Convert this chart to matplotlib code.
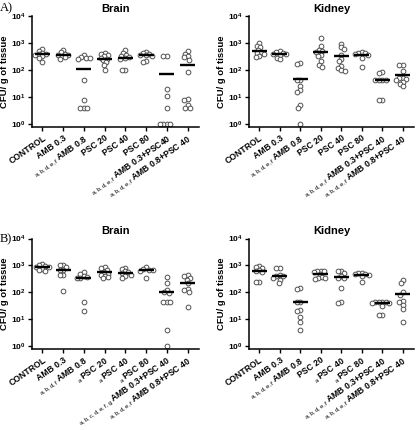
import numpy as np
import matplotlib
matplotlib.use("Agg")
import matplotlib.pyplot as plt

plt.rcParams["font.family"] = ["Liberation Sans", "DejaVu Sans"]
plt.rcParams["mathtext.fontset"] = "custom"
plt.rcParams["mathtext.rm"] = "Liberation Sans"
plt.rcParams["mathtext.bf"] = "Liberation Sans:bold"

# group names (tick labels) and significance prefixes
groups_a_brain = ["CONTROL", "AMB 0.3", "AMB 0.8", "PSC 20", "PSC 40", "PSC 80",
                  "AMB 0.3+PSC40", "AMB 0.8+PSC 40"]
groups_other = ["CONTROL", "AMB 0.3", "AMB 0.8", "PSC 20", "PSC 40", "PSC 80",
                "AMB 0.3+PSC 40", "AMB 0.8+PSC 40"]

prefix_a_brain = ["", "", "a,b,d,e,f", "", "", "", "a,b,d,e,f", "a,b,d,e,f"]
prefix_a_kidney = ["", "", "a,b,d,e,f", "", "", "", "a,b,d,e,f", "a,b,d,e,f"]
prefix_b_brain = ["", "", "a,b,d,f", "a", "a", "a", "a,b,c,d,e,f,g", "a,b,d,e,f"]
prefix_b_kidney = ["", "", "a,b,d,e,f", "", "a", "a", "a,b,d,e,f", "a,b,d,e,f"]

# CFU / g of tissue
a_brain = [
    [600, 520, 430, 400, 380, 350, 320, 280, 200],
    [570, 450, 400, 370, 350, 330, 300, 260],
    [350, 300, 280, 280, 260, 42, 8, 4, 4, 4],
    [430, 400, 360, 320, 280, 260, 230, 195, 160, 100],
    [540, 430, 360, 330, 310, 270, 250, 100, 100],
    [470, 430, 400, 370, 350, 320, 215, 195],
    [330, 320, 20, 11, 4, 1, 1, 1, 1],
    [500, 400, 320, 300, 245, 87, 8.5, 8, 5, 4, 4],
]
a_brain_mean = [380, 370, 115, 250, 280, 360, 70, 150]

a_kidney = [
    [1000, 800, 700, 550, 450, 420, 400, 330, 300],
    [490, 450, 420, 400, 390, 350, 290, 260],
    [190, 165, 45, 42, 26, 18, 16, 5, 4, 1],
    [1500, 750, 570, 490, 480, 370, 320, 210, 160, 130],
    [920, 690, 600, 370, 260, 210, 140, 118, 98, 90],
    [460, 440, 420, 390, 350, 280, 135],
    [85, 80, 45, 44, 43, 42, 8, 8],
    [160, 150, 90, 52, 50, 48, 45, 38, 31, 25],
]
a_kidney_mean = [500, 380, 48, 460, 330, 350, 44, 65]

b_brain = [
    [1150, 1000, 950, 900, 850, 750, 660, 600],
    [1050, 1000, 850, 690, 660, 430, 430, 110],
    [550, 480, 400, 360, 350, 340, 45, 21],
    [850, 780, 660, 560, 500, 450, 420, 360, 330],
    [800, 740, 600, 560, 520, 460, 400, 350],
    [850, 750, 700, 690, 640, 330],
    [360, 225, 120, 100, 95, 45, 45, 43, 4, 1],
    [450, 420, 350, 300, 225, 130, 120, 100, 29],
]
b_brain_mean = [870, 680, 350, 570, 520, 690, 100, 230]

b_kidney = [
    [920, 850, 780, 660, 600, 550, 250, 245],
    [820, 800, 460, 420, 400, 350, 300, 225],
    [150, 130, 46, 44, 22, 20, 12, 8, 4],
    [640, 620, 600, 550, 480, 370, 340, 330, 320],
    [640, 600, 520, 400, 350, 330, 150, 45, 40],
    [540, 520, 500, 480, 460, 400, 245],
    [46, 45, 44, 43, 42, 40, 32, 15, 15],
    [280, 215, 100, 82, 48, 45, 33, 24, 8],
]
b_kidney_mean = [640, 420, 45, 480, 360, 430, 39, 85]

W, H = 416, 430
CAT_PX = 20.8   # pixels between groups
DEC_PX = 27.0   # pixels per decade
SEP = 3.4       # min distance between circle centres (pixels), circles may overlap a bit


def swarm(vals):
    # simple beeswarm so circles do not sit on top of each other
    ys = np.log10(vals) * DEC_PX
    cands = sorted(np.arange(-20, 20.01, 0.5), key=abs)
    placed = []
    offs = np.zeros(len(ys))
    for i in np.argsort(-ys):
        for c in cands:
            if all((c - px) ** 2 + (ys[i] - py) ** 2 >= SEP ** 2 for px, py in placed):
                break
        placed.append((c, ys[i]))
        offs[i] = c
    return offs / CAT_PX


def panel(rect_px, data, means, names, prefixes, title):
    x0, y0, x1, y1 = rect_px
    ax = fig.add_axes([x0 / W, 1 - y1 / H, (x1 - x0) / W, (y1 - y0) / H])
    for i, vals in enumerate(data):
        xs = i + swarm(vals)
        ax.plot(xs, vals, "o", ms=3.4, mfc="white", mec="#505050", mew=0.7,
                clip_on=False, zorder=2)
        ax.hlines(means[i], i - 0.36, i + 0.36, color="black", lw=1.7, zorder=3)
    ax.set_yscale("log")
    ax.set_ylim(10 ** -0.11, 1e4)
    ax.set_xlim(-0.5, 7.55)
    ax.set_yticks([1, 10, 100, 1000, 10000])
    ax.set_yticklabels([r"$\mathbf{10^{%d}}$" % k for k in range(5)])
    ax.minorticks_off()
    ax.set_xticks(range(len(names)))
    labels = []
    for p, n in zip(prefixes, names):
        if p:
            labels.append(r"$_{\mathrm{%s}}\,$%s" % (p, n))
        else:
            labels.append(n)
    ax.set_xticklabels(labels, rotation=35, ha="right", rotation_mode="anchor",
                       fontsize=6.2, fontweight="bold")
    ax.tick_params(axis="y", labelsize=6, length=3, width=1, pad=1.5)
    ax.tick_params(axis="x", length=3, width=1, pad=1.5)
    for s in ["top", "right"]:
        ax.spines[s].set_visible(False)
    for s in ["left", "bottom"]:
        ax.spines[s].set_linewidth(1.1)
    ax.set_ylabel("CFU/ g of tissue", fontsize=6.8, fontweight="bold")
    ax.yaxis.label.set_va("center")
    ax.yaxis.set_label_coords(-27 / (x1 - x0), 0.5)
    ax.set_title(title, fontsize=8, fontweight="bold", pad=3)
    return ax


fig = plt.figure(figsize=(W / 100, H / 100), dpi=100)

panel((32, 16, 199, 127.3), a_brain, a_brain_mean, groups_a_brain, prefix_a_brain, "Brain")
panel((249, 16, 414, 127.3), a_kidney, a_kidney_mean, groups_other, prefix_a_kidney, "Kidney")
panel((32, 238.5, 199, 349.3), b_brain, b_brain_mean, groups_other, prefix_b_brain, "Brain")
panel((249, 238.5, 414, 349.3), b_kidney, b_kidney_mean, groups_other, prefix_b_kidney, "Kidney")

fig.text(0.0, 1 - 8 / H, "A)", family="Liberation Serif", fontsize=9, va="center")
fig.text(0.0, 1 - 239 / H, "B)", family="Liberation Serif", fontsize=9, va="center")

fig.savefig("out.png", dpi=100)
